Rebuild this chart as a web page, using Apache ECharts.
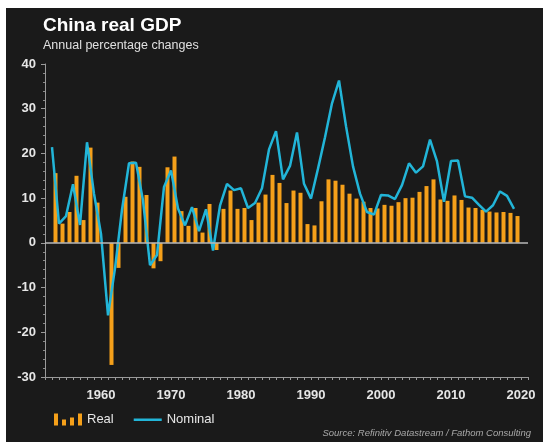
<!DOCTYPE html>
<html>
<head>
<meta charset="utf-8">
<script src="https://cdn.jsdelivr.net/npm/echarts@6/dist/echarts.min.js"></script>
<style>
  html, body { margin: 0; padding: 0; background: #ffffff; }
  #chart { width: 543px; height: 443px; }
</style>
</head>
<body>
<div id="chart"></div>
<script>
// Years (categories)
const years = [];
for (let y = 1953; y <= 2019; y++) years.push(y);

// Real GDP growth, % (bars)
const realGrowth = [
  15.6, 4.3, 6.9, 15.0, 5.1, 21.3, 9.0, 0.0, -27.3, -5.6,
  10.3, 18.2, 17.0, 10.7, -5.7, -4.1, 16.9, 19.3, 7.1, 3.8,
  7.8, 2.3, 8.7, -1.6, 7.6, 11.7, 7.6, 7.8, 5.1, 9.0,
  10.8, 15.2, 13.4, 8.9, 11.7, 11.2, 4.2, 3.9, 9.3, 14.2,
  13.9, 13.0, 11.0, 9.9, 9.2, 7.8, 7.7, 8.5, 8.3, 9.1,
  10.0, 10.1, 11.4, 12.7, 14.2, 9.7, 9.4, 10.6, 9.6, 7.9,
  7.8, 7.4, 7.0, 6.8, 6.9, 6.7, 6.0
];

// Nominal GDP growth, % (line)
const nominalGrowth = [
  21.4, 4.3, 6.0, 13.1, 4.0, 22.5, 11.0, 2.0, -16.2, -5.7,
  7.4, 17.8, 17.9, 9.5, -5.0, -2.7, 12.5, 16.2, 7.7, 3.9,
  8.0, 2.6, 7.5, -1.7, 8.3, 13.2, 11.8, 12.2, 7.8, 8.9,
  12.2, 20.9, 25.0, 14.2, 17.2, 24.7, 13.2, 9.9, 16.6, 23.6,
  31.2, 36.3, 26.1, 17.1, 11.0, 6.9, 6.3, 10.7, 10.6, 9.8,
  12.9, 17.8, 15.7, 17.1, 23.1, 18.2, 9.2, 18.3, 18.4, 10.4,
  10.1, 8.5, 7.0, 8.4, 11.5, 10.5, 7.6
];

// Tick labels
const xTickLabels = [1960, 1970, 1980, 1990, 2000, 2010, 2020];
const yTickLabels = [-30, -20, -10, 0, 10, 20, 30, 40];

const barData = years.map((y, i) => [y + 0.5, realGrowth[i]]);
const lineData = years.map((y, i) => [y, nominalGrowth[i]]);

const chart = echarts.init(document.getElementById('chart'), null, { renderer: 'canvas' });

const labelFont = '"Liberation Sans", Arial, sans-serif';

chart.setOption({
  backgroundColor: '#ffffff',
  animation: false,
  graphic: [
    { type: 'rect', z: -100, shape: { x: 6, y: 8, width: 537, height: 434 }, style: { fill: '#1a1a1a' } },
    { type: 'text', left: 43, top: 16, style: { text: 'China real GDP', fill: '#ffffff', font: 'bold 19px ' + labelFont } },
    { type: 'text', left: 43, top: 39, style: { text: 'Annual percentage changes', fill: '#e0e0e0', font: '12.5px ' + labelFont } },
    { type: 'text', right: 12, top: 428, style: { text: 'Source: Refinitiv Datastream / Fathom Consulting', fill: '#a8a8a8', font: 'italic 9.5px ' + labelFont } }
  ],
  grid: { left: 45, right: 15, top: 64, bottom: 66, containLabel: false },
  legend: {
    left: 49, top: 408,
    itemWidth: 28, itemHeight: 12, itemGap: 20,
    textStyle: { color: '#e6e6e6', fontSize: 13, fontFamily: labelFont },
    data: [
      { name: 'Real', icon: 'path://M0,0h4v12h-4z M8,6h4v6h-4z M16,4h4v8h-4z M24,0h4v12h-4z' },
      { name: 'Nominal', icon: 'path://M0,5h28v2.5h-28z M0,0h0.01v0.01h-0.01z M27.99,11.99h0.01v0.01h-0.01z' }
    ]
  },
  xAxis: {
    type: 'value', min: 1952, max: 2021, interval: 1,
    axisLine: { show: true, onZero: false, lineStyle: { color: '#9a9a9a', width: 1 } },
    axisTick: { show: true, length: 3, lineStyle: { color: '#9a9a9a' } },
    splitLine: { show: false },
    axisLabel: {
      margin: 12, color: '#e6e6e6', fontSize: 13, fontWeight: 'bold', fontFamily: labelFont,
      formatter: v => (xTickLabels.indexOf(v) >= 0 ? String(v) : '')
    }
  },
  yAxis: {
    type: 'value', min: -30, max: 40, interval: 10,
    axisLine: { show: true, lineStyle: { color: '#9a9a9a', width: 1 } },
    axisTick: { show: true, length: 4, lineStyle: { color: '#9a9a9a' } },
    minorTick: { show: true, splitNumber: 5, length: 2, lineStyle: { color: '#8a8a8a' } },
    splitLine: { show: false },
    axisLabel: {
      margin: 9, color: '#e6e6e6', fontSize: 13, fontWeight: 'bold', fontFamily: labelFont,
      formatter: v => (yTickLabels.indexOf(v) >= 0 ? String(v) : '')
    }
  },
  series: [
    {
      name: 'Real', type: 'bar', data: barData, barWidth: 4,
      itemStyle: { color: '#f5a01a' },
      markLine: {
        silent: true, symbol: 'none', label: { show: false },
        lineStyle: { color: '#b8b8b8', type: 'solid', width: 1.5 },
        data: [{ yAxis: 0 }]
      },
      z: 2
    },
    {
      name: 'Nominal', type: 'line', data: lineData,
      symbol: 'none', showSymbol: false,
      lineStyle: { color: '#22b5d8', width: 2.5 },
      itemStyle: { color: '#22b5d8' },
      z: 3
    }
  ]
});
</script>
</body>
</html>
